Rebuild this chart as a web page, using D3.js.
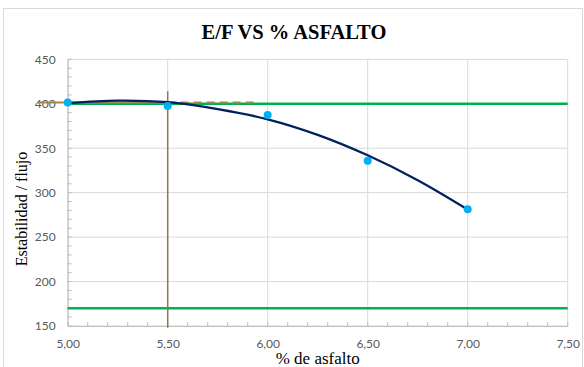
<!DOCTYPE html>
<html>
<head>
<meta charset="utf-8">
<script src="https://cdn.jsdelivr.net/npm/d3@7"></script>
<style>
  html, body { margin: 0; padding: 0; background: #ffffff; }
  svg { display: block; }
</style>
</head>
<body>
<div id="chart"></div>
<script>
// ---- data ----
const title = "E/F VS % ASFALTO";
const xTitle = "% de asfalto";
const yTitle = "Estabilidad / flujo";
const asphalt = [5.00, 5.50, 6.00, 6.50, 7.00];
const efValues = [401.5, 397.5, 387.4, 336.0, 281.3];
const trendX = [5.00, 5.25, 5.50, 5.75, 6.00, 6.25, 6.50, 6.75, 7.00];
const trendY = [400.7, 403.5, 401.7, 394.0, 382.5, 365.0, 342.0, 314.0, 281.0];
const limitUpper = 400;
const limitLower = 170;
const optimumX = 5.50;
const optimumY = 401.5;
const optimumLineXStart = 4.85;
const optimumLineXEnd = 5.95;
const optimumVTop = 414;
const optimumVBottom = 148;
const xTicks = [5.00, 5.50, 6.00, 6.50, 7.00, 7.50];
const yTicks = [150, 200, 250, 300, 350, 400, 450];
const xDomain = [5.0, 7.5];
const yDomain = [150, 450];

// ---- layout ----
const W = 584, H = 367;
const plot = { left: 67.7, right: 567.7, top: 59.3, bottom: 326 };

const svg = d3.select("#chart").append("svg")
  .attr("width", W).attr("height", H);

// outer chart border
svg.append("rect")
  .attr("x", 3.5).attr("y", 8.5)
  .attr("width", 579).attr("height", 370)
  .attr("fill", "#ffffff").attr("stroke", "#d9d9d9").attr("stroke-width", 1);

const x = d3.scaleLinear().domain(xDomain).range([plot.left, plot.right]);
const y = d3.scaleLinear().domain(yDomain).range([plot.bottom, plot.top]);

const fmt = d => d.toFixed(2).replace(".", ",");

// gridlines
const grid = svg.append("g");
grid.selectAll("line.h").data(yTicks).join("line")
  .attr("x1", plot.left).attr("x2", plot.right)
  .attr("y1", d => y(d)).attr("y2", d => y(d))
  .attr("stroke", "#d9d9d9").attr("stroke-width", 1);
grid.selectAll("line.v").data(xTicks).join("line")
  .attr("x1", d => x(d)).attr("x2", d => x(d))
  .attr("y1", plot.top).attr("y2", plot.bottom)
  .attr("stroke", "#d9d9d9").attr("stroke-width", 1);

// axes
const xAxis = d3.axisBottom(x).tickValues(xTicks).tickFormat(fmt).tickSize(0).tickPadding(13);
const gx = svg.append("g").attr("transform", `translate(0,${plot.bottom})`).call(xAxis);
gx.select(".domain").attr("stroke", "#bfbfbf");
gx.selectAll("text").attr("font-family", "Lato, 'Open Sans', sans-serif")
  .attr("font-size", 12).attr("fill", "#595959");

const yAxis = d3.axisLeft(y).tickValues(yTicks).tickSize(0).tickPadding(12);
const gy = svg.append("g").attr("transform", `translate(${plot.left},0)`).call(yAxis);
gy.select(".domain").attr("stroke", "#bfbfbf");
gy.selectAll("text").attr("font-family", "Lato, 'Open Sans', sans-serif")
  .attr("font-size", 12).attr("fill", "#595959");

// minor ticks (inside)
const xMinor = d3.range(0, 26).map(i => xDomain[0] + i * 0.1);
svg.append("g").selectAll("line").data(xMinor).join("line")
  .attr("x1", d => x(d)).attr("x2", d => x(d))
  .attr("y1", plot.bottom - 4).attr("y2", plot.bottom)
  .attr("stroke", "#bfbfbf").attr("stroke-width", 1);
const yMinor = d3.range(0, 31).map(i => yDomain[0] + i * 10);
svg.append("g").selectAll("line").data(yMinor).join("line")
  .attr("x1", plot.left).attr("x2", plot.left + 4)
  .attr("y1", d => y(d)).attr("y2", d => y(d))
  .attr("stroke", "#bfbfbf").attr("stroke-width", 1);

// limit lines (green)
svg.append("g").selectAll("line").data([limitUpper, limitLower]).join("line")
  .attr("x1", x(xDomain[0])).attr("x2", x(xDomain[1]))
  .attr("y1", d => y(d)).attr("y2", d => y(d))
  .attr("stroke", "#00b050").attr("stroke-width", 2.5);

// optimum lines (tan)
const tan = "#a08848";
svg.append("line")
  .attr("x1", x(optimumLineXStart)).attr("x2", x(optimumX))
  .attr("y1", y(optimumY)).attr("y2", y(optimumY))
  .attr("stroke", tan).attr("stroke-width", 2);
svg.append("line")
  .attr("x1", x(optimumX)).attr("x2", x(optimumLineXEnd))
  .attr("y1", y(optimumY)).attr("y2", y(optimumY))
  .attr("stroke", tan).attr("stroke-width", 2).attr("stroke-dasharray", "8,5");
svg.append("line")
  .attr("x1", x(optimumX)).attr("x2", x(optimumX))
  .attr("y1", y(optimumVTop)).attr("y2", y(optimumVBottom))
  .attr("stroke", "#8c7a48").attr("stroke-width", 1.5);

// trend line
const line = d3.line().x(d => x(d[0])).y(d => y(d[1])).curve(d3.curveCatmullRom);
svg.append("path")
  .datum(trendX.map((v, i) => [v, trendY[i]]))
  .attr("d", line)
  .attr("fill", "none").attr("stroke", "#002060").attr("stroke-width", 2.25);

// data points
svg.append("g").selectAll("circle").data(asphalt.map((v, i) => [v, efValues[i]])).join("circle")
  .attr("cx", d => x(d[0])).attr("cy", d => y(d[1])).attr("r", 4)
  .attr("fill", "#00b0f0");

// titles
svg.append("text").text(title)
  .attr("x", 294).attr("y", 39)
  .attr("text-anchor", "middle")
  .attr("font-family", "'Liberation Serif', 'Times New Roman', serif")
  .attr("font-weight", "bold").attr("font-size", 20.5).attr("fill", "#000000");

svg.append("text").text(xTitle)
  .attr("x", (plot.left + plot.right) / 2).attr("y", 364)
  .attr("text-anchor", "middle")
  .attr("font-family", "'Liberation Serif', 'Times New Roman', serif")
  .attr("font-size", 17).attr("fill", "#000000");

svg.append("text").text(yTitle)
  .attr("transform", `translate(27,209) rotate(-90)`)
  .attr("text-anchor", "middle")
  .attr("font-family", "'Liberation Serif', 'Times New Roman', serif")
  .attr("font-size", 16).attr("fill", "#000000");
</script>
</body>
</html>
